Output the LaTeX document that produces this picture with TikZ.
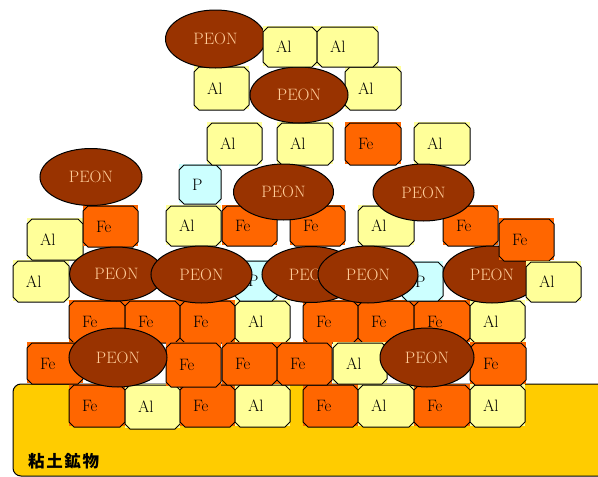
\documentclass[tikz,border=0pt]{standalone}
\usepackage{fontspec}
\newfontfamily\cjk[LetterSpace=10]{Noto Sans CJK JP}
\usetikzlibrary{shapes.misc,shapes.geometric}

\definecolor{alc}{HTML}{FFFF99}
\definecolor{fec}{HTML}{FF6600}
\definecolor{phc}{HTML}{CCFFFF}
\definecolor{peonc}{HTML}{993300}
\definecolor{peontext}{HTML}{FFCC99}
\definecolor{clayc}{HTML}{FFCC00}

\tikzset{
  cellbox/.style={chamfered rectangle, chamfered rectangle xsep=2.5pt,
    chamfered rectangle ysep=2.5pt, draw=black, line width=1pt, inner sep=0pt,
    align=left, font=\fontsize{16.5}{19}\selectfont},
  al/.style={fill=alc},
  fe/.style={fill=fec},
  ph/.style={fill=phc},
  peon/.style={ellipse, draw=black, line width=1pt, fill=peonc,
    text=peontext, inner sep=0pt, font=\fontsize{16.5}{19}\selectfont},
  clay/.style={draw=black, line width=1pt, fill=clayc, rounded corners=8pt},
}

% atom cell: name, x1, y1, x2, y2, kind (al/fe/ph), label
% the label sits 13pt in from the left edge of the cell
\newcommand\cell[7]{%
  \pgfmathsetmacro\cellw{#4-#2-26}%
  \fill[#6c] (#2,#3) rectangle (#4,#5);
  \node[cellbox,#6,text width=\cellw pt,minimum width={(#4-#2)*1pt},minimum height={(#5-#3)*1pt}]
    (#1) at ({(#2+#4)/2},{(#3+#5)/2+1}) {#7};}
% PEON molecule: name, cx, cy, rx, ry
\newcommand\peonat[5]{%
  \node[peon,minimum width={2*#4*1pt},minimum height={2*#5*1pt}] (#1) at (#2,#3) {PEON};}

\begin{document}
\begin{tikzpicture}[x=1pt,y=-1pt]
\useasboundingbox (0,0) rectangle (598,477);

% clay mineral surface
\begin{scope}
  \clip (0,0) rectangle (598,477);
  \draw[clay] (13,384) rectangle (640,476);
\end{scope}
\node[font=\cjk\bfseries\fontsize{16.5}{19}\selectfont, anchor=west, inner sep=0pt] (claylabel) at (28,461) {粘土鉱物};

% bottom layer
\cell{feI1}{69}{384}{125}{426}{fe}{Fe}
\cell{alI1}{125}{384}{180}{428}{al}{Al}
\cell{feI2}{180}{384}{235}{426}{fe}{Fe}
\cell{alI2}{235}{384}{290}{426}{al}{Al}
\cell{feI3}{303}{384}{358}{426}{fe}{Fe}
\cell{alI3}{358}{384}{414}{426}{al}{Al}
\cell{feI4}{414}{384}{470}{426}{fe}{Fe}
\cell{alI4}{470}{384}{525}{426}{al}{Al}

% seventh layer
\cell{feG1}{69}{300}{125}{342}{fe}{Fe}
\cell{feG2}{125}{300}{180}{342}{fe}{Fe}
\cell{feG3}{180}{300}{235}{342}{fe}{Fe}
\cell{alG1}{235}{300}{290}{342}{al}{Al}
\cell{feG4}{303}{300}{358}{342}{fe}{Fe}
\cell{feG5}{358}{300}{414}{342}{fe}{Fe}
\cell{feG6}{414}{300}{470}{342}{fe}{Fe}
\cell{alG2}{470}{300}{525}{342}{al}{Al}

% eighth layer
\cell{feH1}{27}{342}{83}{383}{fe}{Fe}
\cell{feH2}{166}{342}{221}{386}{fe}{Fe}
\cell{feH3}{222}{342}{277}{384}{fe}{Fe}
\cell{feH4}{277}{342}{332}{384}{fe}{Fe}
\cell{alH1}{333}{342}{387}{383}{al}{Al}
\cell{feH5}{470}{342}{526}{384}{fe}{Fe}

% sixth layer cells
\cell{alF1}{13}{260}{69}{301}{al}{Al}
\cell{phF1}{235}{260}{277}{300}{ph}{P}
\cell{phF2}{402}{261}{443}{300}{ph}{P}

% fifth layer
\cell{alE1}{27}{218}{83}{259}{al}{Al}
\cell{feE1}{83}{205}{138}{246}{fe}{Fe}
\cell{alE2}{166}{205}{221}{245}{al}{Al}
\cell{feE2}{222}{205}{277}{245}{fe}{Fe}
\cell{feE3}{290}{205}{345}{245}{fe}{Fe}
\cell{alE3}{358}{205}{414}{245}{al}{Al}
\cell{feE4}{443}{205}{498}{245}{fe}{Fe}

% upper layers
\cell{phD}{179}{164}{221}{203}{ph}{P}
\cell{alC1}{207}{122}{262}{164}{al}{Al}
\cell{alC2}{277}{122}{333}{164}{al}{Al}
\cell{feC}{345}{122}{401}{164}{fe}{Fe}
\cell{alC3}{414}{122}{470}{164}{al}{Al}
\cell{alB1}{194}{66}{249}{109}{al}{Al}
\cell{alB2}{345}{66}{401}{109}{al}{Al}

% adsorbed PEON, upper part
\peonat{peonD1}{91}{177}{51}{28.5}
\peonat{peonD2}{283.5}{192}{50}{28}
\peonat{peonD3}{423.5}{192.5}{50.5}{28.5}
\peonat{peonB}{299}{95}{49}{28}
\peonat{peonA}{215.5}{39}{50}{29}
\cell{alA1}{263}{26}{317}{66}{al}{Al}
\cell{alA2}{317}{26}{378}{66}{al}{Al}

% adsorbed PEON, sixth layer
\peonat{peonF1}{116.5}{274}{47}{27}
\peonat{peonF2}{201.5}{274.5}{50.5}{28.5}
\peonat{peonF3}{311}{274.5}{49}{28}
\peonat{peonF4}{368}{274.5}{50}{28.5}
\peonat{peonF5}{492}{274.5}{49}{28.5}
\cell{feE5}{499}{218}{554}{260}{fe}{Fe}
\cell{alF2}{526}{261}{581}{301}{al}{Al}

% adsorbed PEON, eighth layer
\peonat{peonH1}{118}{357.5}{49}{29.5}
\peonat{peonH2}{427}{357.5}{47}{29.5}
\end{tikzpicture}
\end{document}
